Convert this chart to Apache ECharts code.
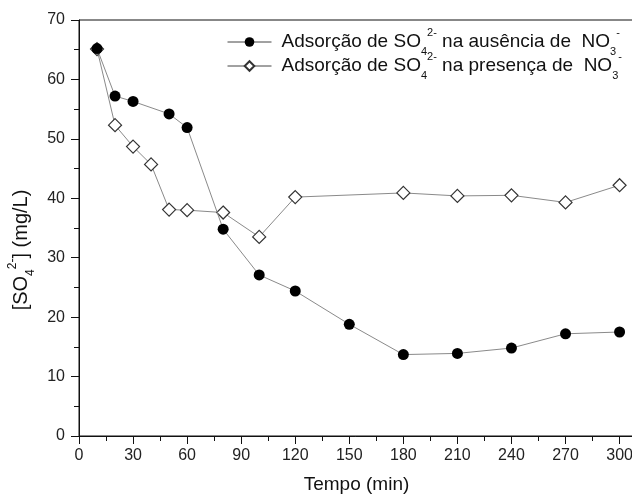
<!DOCTYPE html>
<html>
<head>
<meta charset="utf-8">
<script src="https://cdn.jsdelivr.net/npm/echarts@6/dist/echarts.min.js"></script>
<style>
  html, body { margin: 0; padding: 0; background: #fff; }
  #chart { width: 632px; height: 497px; }
</style>
</head>
<body>
<div id="chart"></div>
<script>
// tempo (min) e concentração de sulfato (mg/L)
const timeAbsent = [10, 20, 30, 50, 60, 80, 100, 120, 150, 180, 210, 240, 270, 300]
const so4Absent = [65.2, 57.2, 56.3, 54.2, 51.9, 34.8, 27.1, 24.4, 18.8, 13.7, 13.9, 14.8, 17.2, 17.5]

const timePresent = [10, 20, 30, 40, 50, 60, 80, 100, 120, 180, 210, 240, 270, 300]
const so4Present = [65.1, 52.3, 48.7, 45.7, 38.1, 38.0, 37.6, 33.5, 40.2, 40.9, 40.4, 40.5, 39.3, 42.2]

const xTicks = [0, 30, 60, 90, 120, 150, 180, 210, 240, 270, 300]
const xMinorTicks = [15, 45, 75, 105, 135, 165, 195, 225, 255, 285]

const nameAbsent = 'ausencia'
const namePresent = 'presenca'
const legendLabels = {
  ausencia: '{t|Adsorção de SO}{sub|4}{sup|2-}{t| na ausência de  NO}{sub|3}{sup|-}',
  presenca: '{t|Adsorção de SO}{sub|4}{sup|2-}{t| na presença de  NO}{sub|3}{sup|-}'
}

const font = '"Liberation Sans", Arial, sans-serif'
const toPairs = (xs, ys) => xs.map((x, i) => [x, ys[i]])

const subSup = (size) => ({
  sub: { fontSize: size, lineHeight: size, verticalAlign: 'bottom', fontFamily: font, color: '#111' },
  sup: { fontSize: size, lineHeight: size, verticalAlign: 'top', fontFamily: font, color: '#111' }
})

const chart = echarts.init(document.getElementById('chart'))

chart.setOption({
  animation: false,
  backgroundColor: '#fff',
  textStyle: { fontFamily: font },
  grid: {
    left: 79,
    right: -2,
    top: 20,
    bottom: 61,
    outerBoundsMode: 'none',
    containLabel: false,
    show: true,
    borderColor: '#111',
    borderWidth: 1
  },
  legend: {
    orient: 'vertical',
    left: 227,
    top: 27,
    padding: 0,
    itemGap: -6,
    itemWidth: 44,
    itemHeight: 12,
    data: [nameAbsent, namePresent],
    formatter: (name) => legendLabels[name],
    lineStyle: { color: '#444', width: 1 },
    textStyle: {
      fontFamily: font,
      color: '#111',
      padding: [0, 0, 0, 5],
      rich: Object.assign({
        t: { fontSize: 19, lineHeight: 30, fontFamily: font, color: '#111' }
      }, subSup(11))
    }
  },
  xAxis: [
    {
      type: 'value',
      min: 0,
      max: 308,
      position: 'bottom',
      name: 'Tempo (min)',
      nameLocation: 'middle',
      nameGap: 39,
      nameTextStyle: { fontSize: 19, color: '#111', fontFamily: font },
      splitLine: { show: false },
      axisLine: { show: true, lineStyle: { color: '#111', width: 1 } },
      axisTick: { show: true, length: 8, customValues: xTicks, lineStyle: { color: '#111' } },
      axisLabel: { fontSize: 16, color: '#222', margin: 12, customValues: xTicks }
    },
    {
      type: 'value',
      min: 0,
      max: 308,
      position: 'bottom',
      splitLine: { show: false },
      axisLine: { show: false },
      axisTick: { show: true, length: 5, customValues: xMinorTicks, lineStyle: { color: '#111' } },
      axisLabel: { show: false }
    }
  ],
  yAxis: {
    type: 'value',
    min: 0,
    max: 70,
    interval: 10,
    name: '{t|[SO}{sub|4}{sup|2-}{t|] (mg/L)}',
    nameLocation: 'middle',
    nameGap: 26,
    nameRotate: 90,
    nameTextStyle: {
      padding: [0, 44, 0, 0],
      rich: Object.assign({
        t: { fontSize: 20, lineHeight: 30, fontFamily: font, color: '#111' }
      }, subSup(12))
    },
    splitLine: { show: false },
    axisLine: { show: true, lineStyle: { color: '#111', width: 1 } },
    axisTick: { show: true, length: 8, lineStyle: { color: '#111' } },
    minorTick: { show: true, splitNumber: 2, length: 5, lineStyle: { color: '#111' } },
    axisLabel: { fontSize: 16, color: '#222', margin: 14 }
  },
  series: [
    {
      name: nameAbsent,
      type: 'line',
      data: toPairs(timeAbsent, so4Absent),
      symbol: 'circle',
      symbolSize: 11,
      itemStyle: { color: '#000' },
      lineStyle: { color: '#8a8a8a', width: 1 },
      z: 3
    },
    {
      name: namePresent,
      type: 'line',
      data: toPairs(timePresent, so4Present),
      symbol: 'diamond',
      symbolSize: 13,
      itemStyle: { color: '#fff', borderColor: '#333', borderWidth: 1.2 },
      lineStyle: { color: '#8a8a8a', width: 1 },
      z: 2
    }
  ]
})
</script>
</body>
</html>
